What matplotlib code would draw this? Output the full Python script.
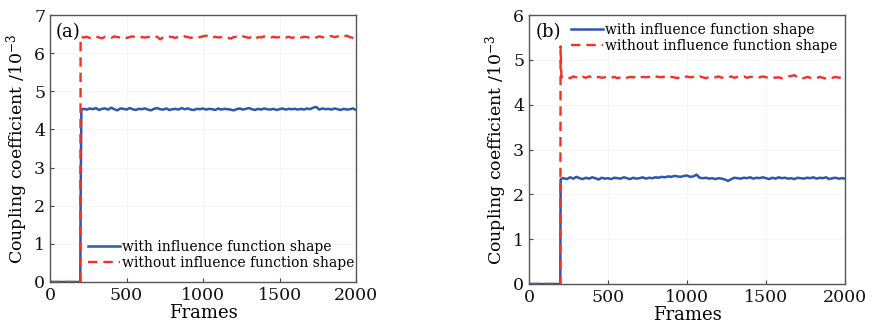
import numpy as np
import matplotlib.pyplot as plt

# panel (a) - values after the step, sampled roughly every 20 frames
a_with_tail = [4.54, 4.52, 4.55, 4.53, 4.56, 4.51, 4.54, 4.55, 4.52, 4.57, 4.53, 4.50, 4.55, 4.54, 4.52,
               4.56, 4.53, 4.51, 4.54, 4.53, 4.55, 4.52, 4.50, 4.54, 4.56, 4.53, 4.52, 4.55, 4.51, 4.53,
               4.54, 4.52, 4.56, 4.53, 4.55, 4.52, 4.51, 4.54, 4.53, 4.55, 4.52, 4.54, 4.53, 4.51, 4.55,
               4.52, 4.54, 4.53, 4.52, 4.50, 4.53, 4.55, 4.52, 4.54, 4.56, 4.53, 4.51, 4.54, 4.52, 4.55,
               4.53, 4.52, 4.54, 4.51, 4.53, 4.55, 4.52, 4.54, 4.53, 4.54, 4.52, 4.54, 4.52, 4.55, 4.53,
               4.57, 4.59, 4.52, 4.55, 4.53, 4.54, 4.52, 4.55, 4.53, 4.51, 4.54, 4.52, 4.53, 4.55, 4.51]
a_without_tail = [6.41, 6.43, 6.40, 6.42, 6.44, 6.41, 6.39, 6.43, 6.42, 6.40, 6.44, 6.42, 6.41, 6.43, 6.40,
                  6.42, 6.44, 6.41, 6.43, 6.42, 6.41, 6.42, 6.44, 6.41, 6.43, 6.36, 6.42, 6.41, 6.43, 6.42,
                  6.40, 6.43, 6.41, 6.44, 6.42, 6.40, 6.43, 6.41, 6.42, 6.44, 6.46, 6.42, 6.40, 6.43, 6.41,
                  6.42, 6.44, 6.41, 6.38, 6.42, 6.43, 6.41, 6.44, 6.42, 6.40, 6.43, 6.37, 6.42, 6.41, 6.44,
                  6.42, 6.40, 6.43, 6.41, 6.42, 6.44, 6.41, 6.43, 6.40, 6.42, 6.44, 6.41, 6.43, 6.42, 6.40,
                  6.43, 6.41, 6.44, 6.42, 6.40, 6.43, 6.45, 6.42, 6.44, 6.41, 6.43, 6.46, 6.42, 6.40, 6.42]
a_with_step = [0, 0, 2.1, 4.52]
a_without_step = [0, 0, 6.42, 6.42]

# panel (b)
b_with_tail = [2.36, 2.34, 2.38, 2.35, 2.39, 2.36, 2.34, 2.37, 2.35, 2.38,
               2.36, 2.33, 2.37, 2.35, 2.36, 2.34, 2.37, 2.36, 2.35, 2.38,
               2.36, 2.34, 2.37, 2.35, 2.36, 2.38, 2.35, 2.37, 2.36, 2.38,
               2.37, 2.39, 2.38, 2.40, 2.39, 2.41, 2.40, 2.39, 2.41, 2.42,
               2.39, 2.40, 2.44, 2.37, 2.36, 2.37, 2.35, 2.36, 2.34, 2.36,
               2.35, 2.33, 2.30, 2.34, 2.37, 2.36, 2.35, 2.37, 2.36, 2.38,
               2.35, 2.37, 2.36, 2.38, 2.36, 2.34, 2.37, 2.35, 2.38, 2.36,
               2.37, 2.35, 2.36, 2.34, 2.37, 2.36, 2.35, 2.37, 2.36, 2.38,
               2.35, 2.37, 2.36, 2.38, 2.34, 2.36, 2.37, 2.35, 2.36, 2.35]
b_without_tail = [4.60, 4.62, 4.59, 4.63, 4.61, 4.58, 4.62, 4.60, 4.63, 4.61, 4.59, 4.62, 4.60, 4.61, 4.63,
                  4.60, 4.62, 4.59, 4.61, 4.63, 4.60, 4.62, 4.61, 4.63, 4.60, 4.62, 4.61, 4.62, 4.60, 4.63,
                  4.62, 4.61, 4.63, 4.60, 4.62, 4.61, 4.59, 4.62, 4.60, 4.63, 4.61, 4.62, 4.60, 4.63, 4.61,
                  4.59, 4.62, 4.60, 4.61, 4.63, 4.60, 4.62, 4.61, 4.63, 4.60, 4.62, 4.61, 4.63, 4.60, 4.62,
                  4.62, 4.60, 4.61, 4.63, 4.61, 4.60, 4.62, 4.60, 4.61, 4.59, 4.62, 4.63, 4.64, 4.66, 4.60,
                  4.61, 4.59, 4.62, 4.60, 4.58, 4.59, 4.62, 4.60, 4.58, 4.61, 4.60, 4.62, 4.60, 4.61, 4.62]
b_with_step = [0, 0, 2.33, 2.35]
b_without_step = [0, 0, 5.3, 4.62]

step_frames = [0, 198, 200, 205]
labels = ['with influence function shape', 'without influence function shape']

plt.rcParams['font.family'] = 'DejaVu Serif'
plt.rcParams['mathtext.fontset'] = 'dejavuserif'

blue = '#2b57b0'
red = '#f2302c'

fig = plt.figure(figsize=(8.72, 3.3), dpi=100)
ax1 = fig.add_axes([50/872, 48/330, 306/872, 267/330])
ax2 = fig.add_axes([529/872, 46/330, 316/872, 269/330])

panels = [(ax1, a_with_step + a_with_tail, a_without_step + a_without_tail, 7, '(a)', 'lower'),
          (ax2, b_with_step + b_with_tail, b_without_step + b_without_tail, 6, '(b)', 'upper')]

for ax, ywith, ywithout, ymax, tag, where in panels:
    tail_frames = list(np.linspace(220, 2000, len(ywith) - 4))
    ax.plot(step_frames + tail_frames, ywith, color=blue, lw=1.8, label=labels[0])
    tail_frames = list(np.linspace(220, 2000, len(ywithout) - 4))
    ax.plot(step_frames + tail_frames, ywithout, color=red, lw=1.7, ls=(0, (4, 2.5)), label=labels[1])
    ax.set_xlim(0, 2000)
    ax.set_ylim(0, ymax)
    ax.set_xticks([0, 500, 1000, 1500, 2000])
    ax.set_yticks(range(0, ymax + 1))
    ax.tick_params(direction='in', length=3, labelsize=12.5, colors='#444444', labelcolor='#111111')
    for s in ax.spines.values():
        s.set_color('#555555')
        s.set_linewidth(1.0)
    ax.grid(color='#f4f4f4', lw=0.6)
    ax.set_xlabel('Frames', fontsize=13, labelpad=0)
    ax.set_ylabel('Coupling coefficient /10$^{-3}$', fontsize=12.5, labelpad=3)
    ax.text(0.02, 0.97, tag, transform=ax.transAxes, fontsize=13, va='top', ha='left')
    if where == 'lower':
        ax.legend(loc='lower left', bbox_to_anchor=(0.105, 0.025), frameon=False, fontsize=10,
                  handlelength=2.3, handletextpad=0.2, labelspacing=0.15, borderaxespad=0)
    else:
        ax.legend(loc='upper right', bbox_to_anchor=(0.995, 0.99), frameon=False, fontsize=10,
                  handlelength=2.3, handletextpad=0.2, labelspacing=0.15, borderaxespad=0)

plt.savefig('out.png', dpi=100)
